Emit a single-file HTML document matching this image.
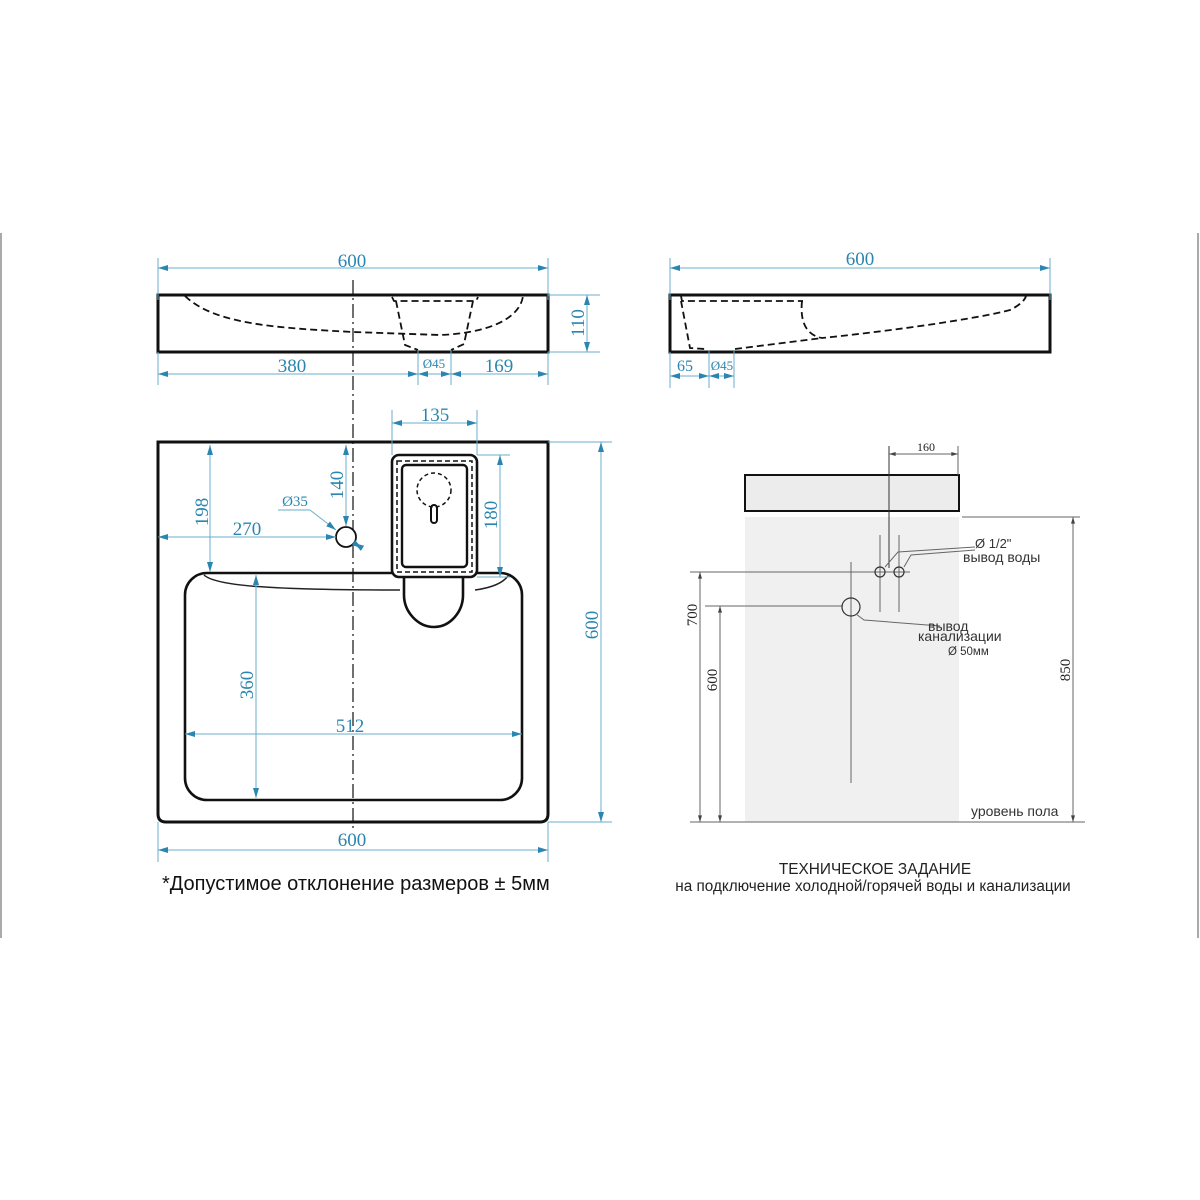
<!DOCTYPE html>
<html><head><meta charset="utf-8"><style>
html,body{margin:0;padding:0;background:#fff;}
svg{display:block;}
.b{stroke:#6aaecb;stroke-width:1;fill:none;}
.t{fill:#2a86b0;font-family:"Liberation Serif","DejaVu Serif",serif;font-size:19px;text-anchor:middle;}
.ts{fill:#2a86b0;font-family:"Liberation Serif","DejaVu Serif",serif;font-size:13px;text-anchor:middle;}
.k{stroke:#111;stroke-width:3;fill:none;}
.d{stroke:#111;stroke-width:1.8;fill:none;stroke-dasharray:7 4;}
.g{stroke:#666;stroke-width:1;fill:none;}
.gt{fill:#222;font-family:"Liberation Serif",serif;font-size:15px;text-anchor:middle;}
.s{fill:#333;font-family:"Liberation Sans","DejaVu Sans",sans-serif;font-size:14px;}
</style></head><body>
<svg width="1200" height="1200" viewBox="0 0 1200 1200" xmlns="http://www.w3.org/2000/svg">
<defs>
<marker id="a" viewBox="0 0 10 6" refX="10" refY="3" markerWidth="12" markerHeight="6" orient="auto-start-reverse" markerUnits="userSpaceOnUse"><path d="M0,0 L10,3 L0,6z" fill="#2a86b0"/></marker>
<marker id="ga" viewBox="0 0 10 6" refX="10" refY="3" markerWidth="8" markerHeight="4" orient="auto-start-reverse" markerUnits="userSpaceOnUse"><path d="M0,0 L10,3 L0,6z" fill="#444"/></marker>
</defs>
<line x1="1" y1="233" x2="1" y2="938" stroke="#aaa" stroke-width="2"/>
<line x1="1198" y1="233" x2="1198" y2="938" stroke="#aaa" stroke-width="2"/>

<line x1="353" y1="280" x2="353" y2="832" stroke="#222" stroke-width="1.3" stroke-dasharray="14 4 2 4"/>

<rect x="158" y="295" width="390" height="57" class="k"/>
<path class="d" d="M185,296 C215,325 280,328 353,332 L440,335 C490,333 520,318 523,296"/>
<path class="d" d="M392,297 L394,301 L476,301 L478,297 M396,301 L405,345 L418,350 M473,301 L464,344 L451,350"/>
<line class="b" x1="158" y1="258" x2="158" y2="300"/><line class="b" x1="548" y1="258" x2="548" y2="300"/>
<line class="b" x1="158" y1="268" x2="548" y2="268" marker-start="url(#a)" marker-end="url(#a)"/>
<text class="t" x="352" y="267">600</text>
<line class="b" x1="158" y1="352" x2="158" y2="385"/><line class="b" x1="548" y1="352" x2="548" y2="385"/>
<line class="b" x1="418" y1="350" x2="418" y2="385"/><line class="b" x1="451" y1="350" x2="451" y2="385"/>
<line class="b" x1="158" y1="374" x2="418" y2="374" marker-start="url(#a)" marker-end="url(#a)"/>
<line class="b" x1="418" y1="374" x2="451" y2="374" marker-start="url(#a)" marker-end="url(#a)"/>
<line class="b" x1="451" y1="374" x2="548" y2="374" marker-start="url(#a)" marker-end="url(#a)"/>
<text class="t" x="292" y="372">380</text>
<text class="ts" x="434" y="368">Ø45</text>
<text class="t" x="499" y="372">169</text>
<line class="b" x1="548" y1="295" x2="600" y2="295"/><line class="b" x1="548" y1="352" x2="600" y2="352"/>
<line class="b" x1="587" y1="295" x2="587" y2="352" marker-start="url(#a)" marker-end="url(#a)"/>
<text class="t" transform="translate(584,323) rotate(-90)">110</text>

<rect x="670" y="295" width="380" height="57" class="k"/>
<path class="d" d="M681,296 L682,301 L803,301 M681,301 L690,348 L705,349 M802,301 C800,320 805,335 822,338 C900,330 980,318 1010,310 C1020,305 1025,300 1026,296 M735,349 L822,338"/>
<line class="b" x1="670" y1="258" x2="670" y2="300"/><line class="b" x1="1050" y1="258" x2="1050" y2="300"/>
<line class="b" x1="670" y1="268" x2="1050" y2="268" marker-start="url(#a)" marker-end="url(#a)"/>
<text class="t" x="860" y="265">600</text>
<line class="b" x1="670" y1="352" x2="670" y2="388"/><line class="b" x1="709" y1="350" x2="709" y2="388"/><line class="b" x1="734" y1="350" x2="734" y2="388"/>
<line class="b" x1="670" y1="376" x2="709" y2="376" marker-start="url(#a)" marker-end="url(#a)"/>
<line class="b" x1="709" y1="376" x2="734" y2="376" marker-start="url(#a)" marker-end="url(#a)"/>
<text class="t" x="685" y="371" style="font-size:16px">65</text>
<text class="ts" x="722" y="370">Ø45</text>

<path class="k" d="M158,442 L548,442 L548,814 Q548,822 540,822 L166,822 Q158,822 158,814 Z"/>
<rect x="185" y="573" width="337" height="227" rx="22" class="k" style="stroke-width:2.6"/>
<path stroke="#222" stroke-width="1.5" fill="none" d="M204,575 C215,585 260,590 400,590 M475,590 C490,588 502,584 508,576"/>
<path class="k" style="fill:#fff;stroke-width:2.6" d="M404,577 L404,595 C404,612 418,627 434,627 C450,627 463,612 463,595 L463,577"/>
<rect x="392" y="455" width="85" height="122" rx="7" class="k" style="fill:#fff;stroke-width:2.6"/>
<rect x="397" y="461" width="75" height="111" class="d" style="stroke-width:1.5;stroke-dasharray:5 3"/>
<rect x="402" y="465" width="65" height="102" rx="4" class="k" style="stroke-width:2.4"/>
<circle cx="434" cy="490" r="17" class="d" style="stroke-width:1.5;stroke-dasharray:4 3"/>
<rect x="431" y="505" width="6" height="18" rx="3" class="k" style="stroke-width:2"/>
<circle cx="346" cy="537" r="10" class="k" style="stroke-width:1.8;fill:#fff"/>
<line class="b" x1="392" y1="410" x2="392" y2="455"/><line class="b" x1="477" y1="410" x2="477" y2="455"/>
<line class="b" x1="392" y1="423" x2="477" y2="423" marker-start="url(#a)" marker-end="url(#a)"/>
<text class="t" x="435" y="421">135</text>
<line class="b" x1="210" y1="445" x2="210" y2="572" marker-start="url(#a)" marker-end="url(#a)"/>
<text class="t" transform="translate(208,512) rotate(-90)">198</text>
<line class="b" x1="158" y1="537" x2="336" y2="537" marker-start="url(#a)" marker-end="url(#a)"/>
<text class="t" x="247" y="535">270</text>
<line class="b" x1="346" y1="445" x2="346" y2="526" marker-start="url(#a)" marker-end="url(#a)"/>
<text class="t" transform="translate(343,485) rotate(-90)">140</text>
<line class="b" x1="278" y1="510" x2="310" y2="510"/>
<line class="b" x1="310" y1="510" x2="336" y2="530" marker-end="url(#a)"/>
<line class="b" x1="362" y1="548" x2="354" y2="543" marker-end="url(#a)" marker-start="url(#a)"/>
<text class="ts" x="295" y="506" style="font-size:15px">Ø35</text>
<line class="b" x1="477" y1="455" x2="510" y2="455"/><line class="b" x1="477" y1="577" x2="510" y2="577"/>
<line class="b" x1="500" y1="455" x2="500" y2="577" marker-start="url(#a)" marker-end="url(#a)"/>
<text class="t" transform="translate(497,515) rotate(-90)">180</text>
<line class="b" x1="548" y1="442" x2="612" y2="442"/><line class="b" x1="548" y1="822" x2="612" y2="822"/>
<line class="b" x1="601" y1="442" x2="601" y2="822" marker-start="url(#a)" marker-end="url(#a)"/>
<text class="t" transform="translate(598,625) rotate(-90)">600</text>
<line class="b" x1="256" y1="575" x2="256" y2="798" marker-start="url(#a)" marker-end="url(#a)"/>
<text class="t" transform="translate(253,685) rotate(-90)">360</text>
<line class="b" x1="185" y1="734" x2="522" y2="734" marker-start="url(#a)" marker-end="url(#a)"/>
<text class="t" x="350" y="732">512</text>
<line class="b" x1="158" y1="822" x2="158" y2="862"/><line class="b" x1="548" y1="822" x2="548" y2="862"/>
<line class="b" x1="158" y1="850" x2="548" y2="850" marker-start="url(#a)" marker-end="url(#a)"/>
<text class="t" x="352" y="846">600</text>
<text x="162" y="890" style="font-family:'Liberation Sans','DejaVu Sans',sans-serif;font-size:20px;fill:#111">*Допустимое отклонение размеров ± 5мм</text>

<rect x="745" y="517" width="214" height="305" fill="#f0f0f0"/>
<rect x="745" y="475" width="214" height="36" fill="#ececec" stroke="#111" stroke-width="2"/>
<line class="g" x1="690" y1="822" x2="1085" y2="822"/>
<line class="g" x1="962" y1="517" x2="1080" y2="517"/>
<line class="g" x1="1073" y1="517" x2="1073" y2="822" marker-start="url(#ga)" marker-end="url(#ga)"/>
<text class="gt" transform="translate(1070,670) rotate(-90)">850</text>
<line class="g" x1="690" y1="572" x2="910" y2="572"/>
<line class="g" x1="700" y1="572" x2="700" y2="822" marker-start="url(#ga)" marker-end="url(#ga)"/>
<text class="gt" transform="translate(697,615) rotate(-90)">700</text>
<line class="g" x1="705" y1="606" x2="843" y2="606"/>
<line class="g" x1="720" y1="606" x2="720" y2="822" marker-start="url(#ga)" marker-end="url(#ga)"/>
<text class="gt" transform="translate(717,680) rotate(-90)">600</text>
<line class="g" x1="851" y1="562" x2="851" y2="783"/>
<circle cx="851" cy="607" r="9" fill="none" stroke="#333" stroke-width="1.2"/>
<line class="g" x1="880" y1="535" x2="880" y2="612"/><line class="g" x1="899" y1="535" x2="899" y2="612"/>
<circle cx="880" cy="572" r="5" fill="none" stroke="#333" stroke-width="1.2"/>
<circle cx="899" cy="572" r="5" fill="none" stroke="#333" stroke-width="1.2"/>
<line x1="889" y1="446" x2="889" y2="568" stroke="#333" stroke-width="1"/>
<line class="g" x1="958" y1="446" x2="958" y2="475"/>
<line class="g" x1="889" y1="454" x2="958" y2="454" marker-start="url(#ga)" marker-end="url(#ga)"/>
<text class="gt" x="926" y="451" style="font-size:12px">160</text>
<path class="g" d="M885,567 L898,552 L975,547 M904,567 L911,555 L975,550"/>
<path class="g" d="M856,614 L864,620 L940,626"/>
<text class="s" x="975" y="548" style="font-size:13px">Ø 1/2"</text>
<text class="s" x="963" y="562">вывод воды</text>
<text class="s" x="928" y="631">вывод</text>
<text class="s" x="918" y="641">канализации</text>
<text class="s" x="948" y="655" style="font-size:11.5px">Ø 50мм</text>
<text class="s" x="971" y="816">уровень пола</text>
<text x="875" y="874" style="font-family:'Liberation Sans',sans-serif;font-size:15.4px;fill:#222;text-anchor:middle">ТЕХНИЧЕСКОЕ ЗАДАНИЕ</text>
<text x="873" y="891" style="font-family:'Liberation Sans',sans-serif;font-size:15.3px;fill:#222;text-anchor:middle">на подключение холодной/горячей воды и канализации</text>
</svg>
</body></html>
